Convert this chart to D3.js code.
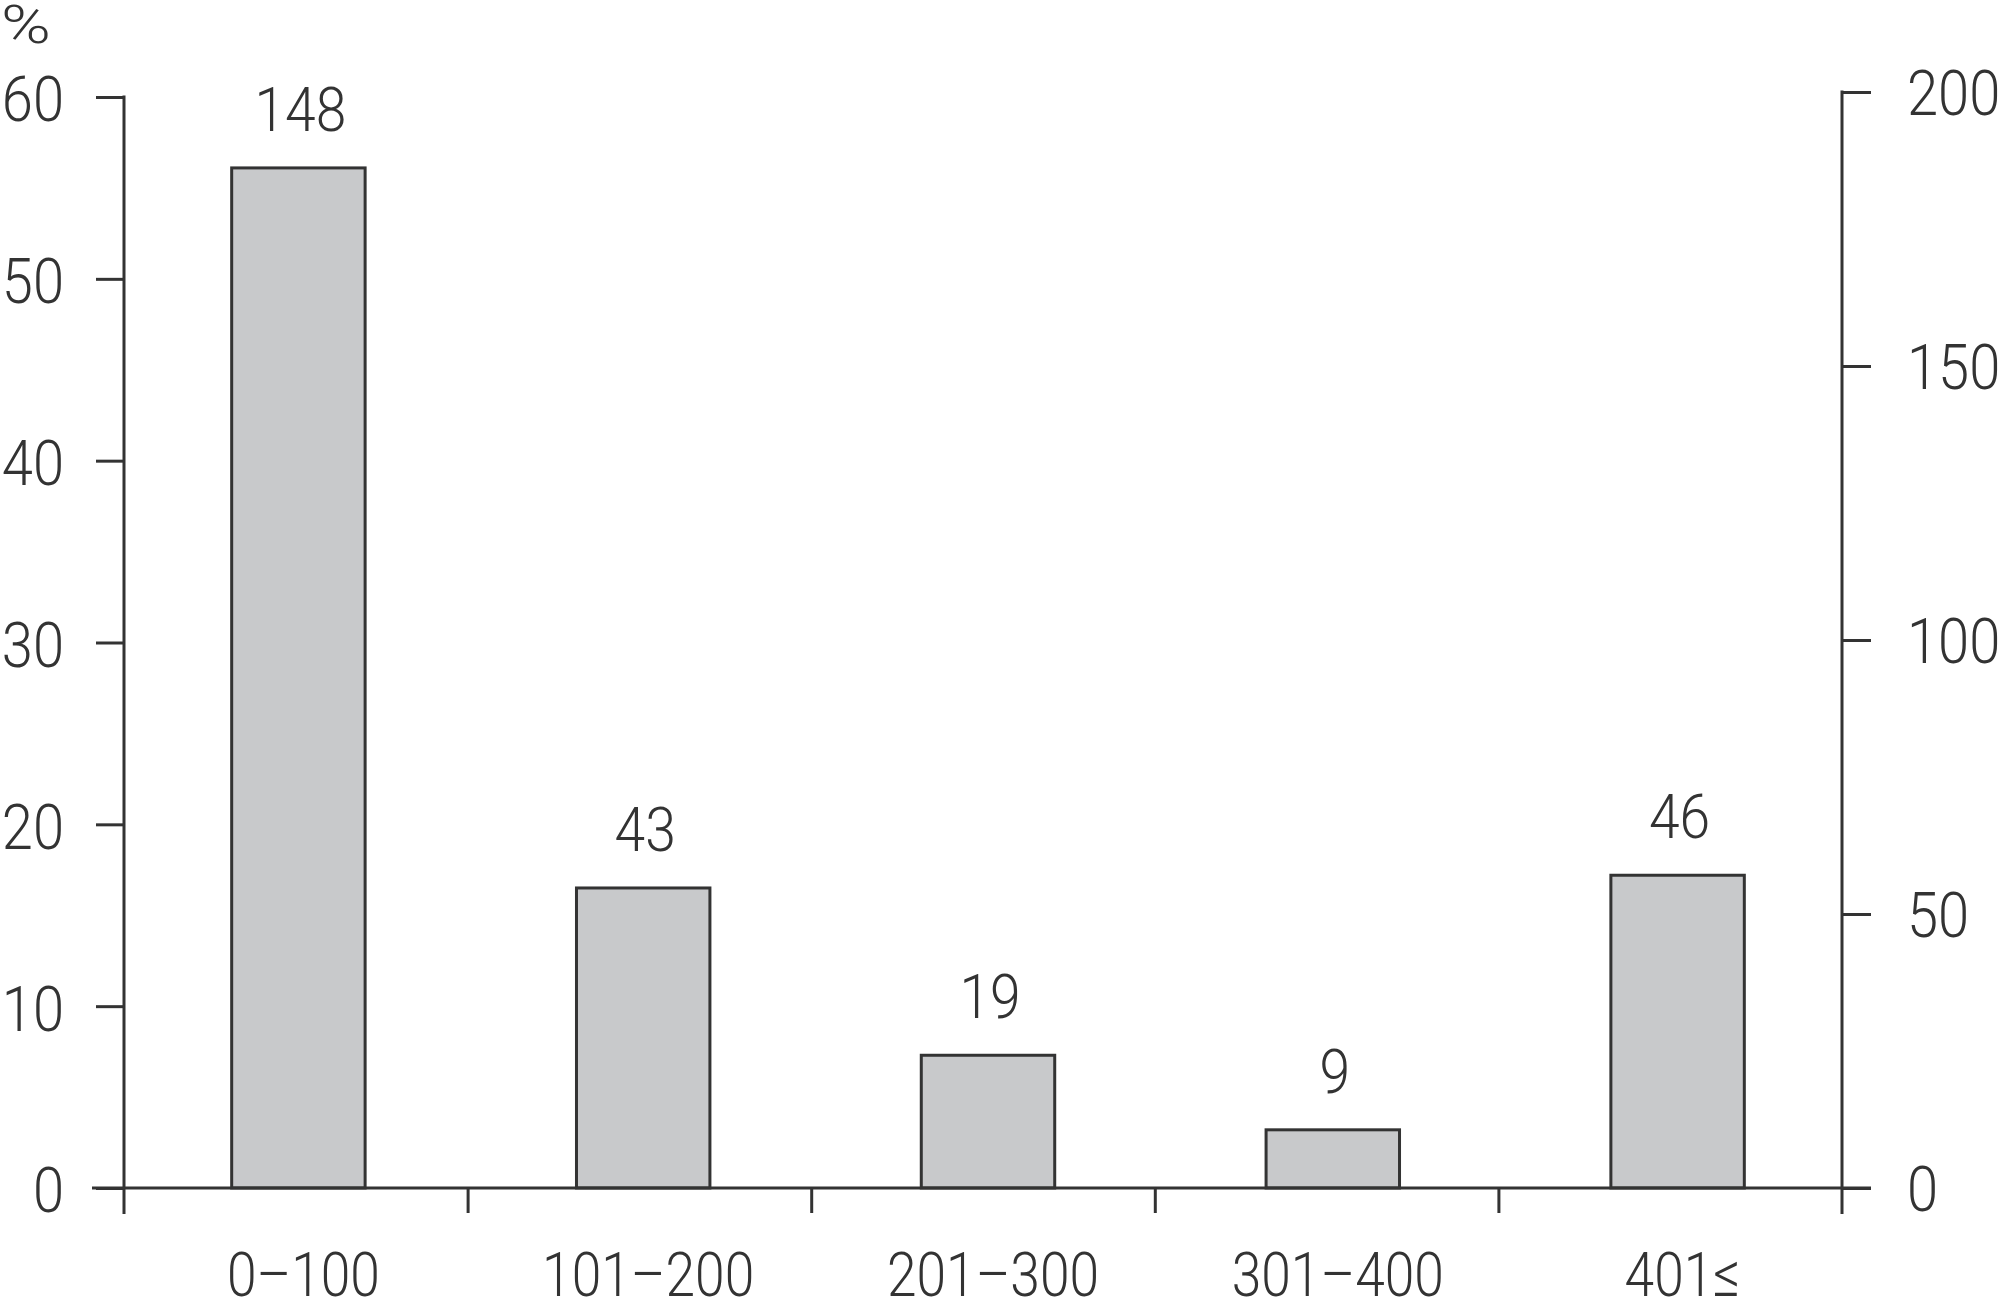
<!DOCTYPE html>
<html><head><meta charset="utf-8">
<script src="https://cdn.jsdelivr.net/npm/d3@7"></script>
<style>
html,body{margin:0;padding:0;background:#fff;}
svg{display:block;}
text{font-family:Roboto,"Liberation Sans",sans-serif;font-weight:300;fill:#333;}
</style></head>
<body>
<script>
const categories = ["0–100", "101–200", "201–300", "301–400", "401≤"];
const percents = [56.1, 16.5, 7.3, 3.2, 17.2];
const counts = [148, 43, 19, 9, 46];
const leftTicks = [0, 10, 20, 30, 40, 50, 60];
const rightTicks = [0, 50, 100, 150, 200];
const unitLabel = "%";

const W = 1999, H = 1303;
const ink = "#333333";
const svg = d3.select("body").append("svg").attr("width", W).attr("height", H);

function squeeze(s) {
  return sel => sel.each(function () {
    const t = d3.select(this);
    const xx = +(t.attr("x") || 0);
    t.attr("transform", `translate(${xx},0) scale(${s},1) translate(${-xx},0)`);
  });
}

const x0 = 124, x1 = 1842, yBase = 1188;
const x = d3.scaleBand().domain(categories).range([126, 1850]).paddingInner(0.613).paddingOuter(0.3065);
const xEdge = d3.scaleLinear().domain([0, categories.length]).range([x0, x1]);
const yL = d3.scaleLinear().domain([0, 60]).range([yBase, 97]);
const yR = d3.scaleLinear().domain([0, 200]).range([yBase, 92]);

// bars
svg.append("g").selectAll("rect").data(categories).join("rect")
  .attr("x", d => x(d))
  .attr("y", (d, i) => yL(percents[i]))
  .attr("width", x.bandwidth())
  .attr("height", (d, i) => yBase - yL(percents[i]))
  .attr("fill", "#c8c9cb").attr("stroke", ink).attr("stroke-width", 3);

// count labels
svg.append("g").selectAll("text").data(categories).join("text")
  .attr("x", d => x(d) + x.bandwidth() / 2 + 2)
  .attr("y", (d, i) => yL(percents[i]) - 37)
  .attr("text-anchor", "middle").attr("font-size", 62)
  .text((d, i) => counts[i])
  .call(squeeze(0.89));

// left axis
const gL = svg.append("g").attr("transform", `translate(${x0},0)`)
  .call(d3.axisLeft(yL).tickValues(leftTicks).tickSize(28).tickPadding(32).tickSizeOuter(0));
gL.attr("font-family", null).attr("font-size", null);
gL.select(".domain").remove();
gL.selectAll("line").attr("stroke", ink).attr("stroke-width", 3);
gL.selectAll("text").attr("font-size", 63).attr("dy", "0.38em").attr("fill", null).call(squeeze(0.89));
svg.append("line").attr("x1", x0).attr("x2", x0).attr("y1", yL(60) - 1.5).attr("y2", 1214)
  .attr("stroke", ink).attr("stroke-width", 3);

// right axis
const gR = svg.append("g").attr("transform", `translate(${x1},0)`)
  .call(d3.axisRight(yR).tickValues(rightTicks).tickSize(29).tickPadding(36).tickSizeOuter(0));
gR.attr("font-family", null).attr("font-size", null);
gR.select(".domain").remove();
gR.selectAll("line").attr("stroke", ink).attr("stroke-width", 3);
gR.selectAll("text").attr("font-size", 63).attr("dy", "0.35em").attr("fill", null).call(squeeze(0.89));
svg.append("line").attr("x1", x1).attr("x2", x1).attr("y1", yR(200) - 1.5).attr("y2", 1214)
  .attr("stroke", ink).attr("stroke-width", 3);

// bottom axis
svg.append("line").attr("x1", 92).attr("x2", 1871).attr("y1", yBase).attr("y2", yBase)
  .attr("stroke", ink).attr("stroke-width", 3);
const gB = svg.append("g").attr("transform", `translate(0,${yBase})`)
  .call(d3.axisBottom(xEdge).tickValues(d3.range(1, categories.length)).tickSize(25).tickFormat(""));
gB.select(".domain").remove();
gB.selectAll("line").attr("stroke", ink).attr("stroke-width", 3);

// category labels
svg.append("g").selectAll("text").data(categories).join("text")
  .attr("x", d => x(d) + x.bandwidth() / 2 + 5)
  .attr("y", 1296)
  .attr("text-anchor", "middle").attr("font-size", 62)
  .text(d => d)
  .call(squeeze(0.86));

// unit label
svg.append("text").attr("x", 1).attr("y", 43).attr("font-size", 54).text(unitLabel).call(squeeze(1.25));
</script>
</body></html>
